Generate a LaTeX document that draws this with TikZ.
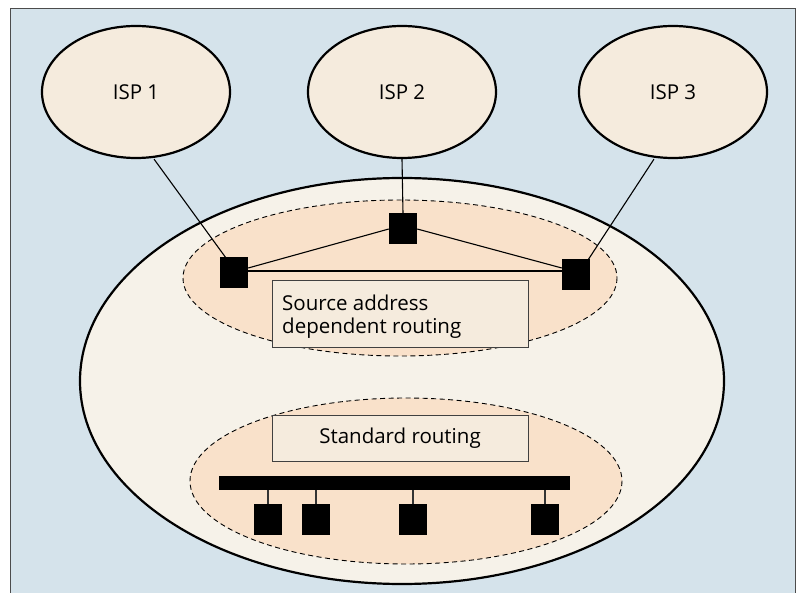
\documentclass[tikz,border=0pt]{standalone}
\usepackage{fontspec}
\setmainfont{Open Sans}
\usetikzlibrary{shapes.geometric}
\begin{document}
\begin{tikzpicture}[x=1pt,y=-1pt,
  isp/.style={ellipse,draw=black,line width=2.2pt,fill=ispfill,minimum width=188pt,minimum height=132pt,inner sep=0pt,font=\fontsize{20.5}{23}\selectfont},
  dev/.style={rectangle,fill=black,minimum width=28pt,minimum height=31pt,inner sep=0pt},
  label box/.style={rectangle,draw=black!75,line width=1pt,fill=ispfill,inner sep=0pt},
  link/.style={draw=black,line width=1.1pt},
  zone/.style={draw=black,dash pattern=on 5pt off 3.5pt,line width=0.9pt,fill=zonefill}]
\definecolor{bgblue}{HTML}{D5E3EB}
\definecolor{ispfill}{HTML}{F5EBDD}
\definecolor{sitefill}{HTML}{F6F2E9}
\definecolor{zonefill}{HTML}{F9E1CA}
\useasboundingbox (0,0) rectangle (798,593);
% frame
\draw[fill=bgblue,draw=black!70,line width=1pt] (10,9) rectangle (795,600);
% ISP clouds
\node[isp] (isp1) at (136,92) {ISP 1};
\node[isp] (isp2) at (402,92) {ISP 2};
\node[isp] (isp3) at (673,92) {ISP 3};
% site
\draw[fill=sitefill,line width=2.2pt] (402,381) ellipse [x radius=322, y radius=203];
\draw[zone] (400,278) ellipse [x radius=217, y radius=78];
\draw[zone] (406,481) ellipse [x radius=216, y radius=83];
% border routers
\node[dev] (r1) at (234,273) {};
\node[dev] (r2) at (403,229) {};
\node[dev] (r3) at (576,275) {};
\coordinate (r1top) at (226,258);
\coordinate (r3top) at (588,260);
\draw[link] (isp1.south) ++(18,0) coordinate (isp1b) -- (r1top);
\draw[link] (isp2.south) -- (r2.north);
\draw[link] (isp3.south) ++(-19,0) coordinate (isp3b) -- (r3top);
\draw[link] ([yshift=5pt]r1.east) -- (r2.west);
\draw[link] (r2.east) -- ([yshift=7pt]r3.west);
\draw[link] ([yshift=2pt]r1.east) -- ([yshift=4pt]r3.west);
% labels
\node[label box,minimum width=256pt,minimum height=67pt] (sadr) at (400,314.5) {};
\node[anchor=north west,align=left,inner sep=0pt,font=\fontsize{20.5}{23}\selectfont] (sadrt) at (282,294.5) {Source address\\dependent routing};
\node[label box,minimum width=256pt,minimum height=45pt,font=\fontsize{20.5}{23}\selectfont] (std) at (400,438.5) {Standard routing};
% internal LAN
\node[rectangle,fill=black,minimum width=351pt,minimum height=14pt,inner sep=0pt] (bus) at (394.5,483) {};
\foreach \n/\x in {h1/268,h2/316,h3/413,h4/545}{
  \node[dev] (\n) at (\x,519.5) {};
  \draw[line width=1.1pt,draw=black!80] (\n.north) -- (\n.north |- bus.south);
}
\end{tikzpicture}
\end{document}
